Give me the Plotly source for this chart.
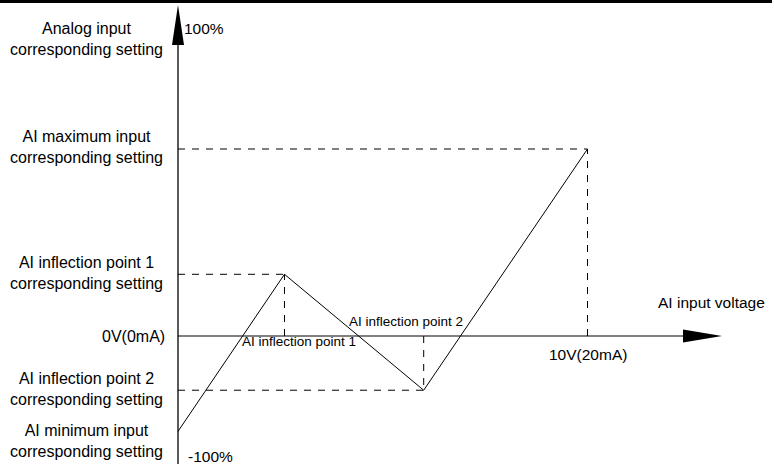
import plotly.graph_objects as go

# ---------------------------------------------------------
# AI curve with two inflection points (setting vs input)
# ---------------------------------------------------------

W, H = 774, 464
X0_PX, Y0_PX = 178, 336        # where the two axes cross, in pixels
PX_PER_V = 40.95               # 0 V .. 10 V spans 178 -> 587 px
PX_PER_PCT = 1.87              # 0 % .. 100 % spans 336 -> 149 px

# points of the curve: min, inflection 1, inflection 2, max
input_v = [0.0, 2.6, 6.0, 10.0]
setting_pct = [-51, 33, -29, 100]

FONT = "Arial, Liberation Sans, sans-serif"


def vx(px):
    return (px - X0_PX) / PX_PER_V


def vy(py):
    return (Y0_PX - py) / PX_PER_PCT


fig = go.Figure()

# === dashed guide lines to both axes (not for the min point) ===
gx, gy = [], []
for xv, yv in zip(input_v[1:], setting_pct[1:]):
    gx += [0, xv, None, xv, xv, None]
    gy += [yv, yv, None, 0, yv, None]
fig.add_trace(go.Scatter(
    x=gx, y=gy, mode="lines",
    line=dict(color="black", width=1, dash="7px,7px"),
    hoverinfo="skip", showlegend=False
))

# === the curve ===
fig.add_trace(go.Scatter(
    x=input_v, y=setting_pct, mode="lines",
    line=dict(color="black", width=1),
    showlegend=False
))

# === axes drawn as shapes ===
shapes = []
# x axis (grey) + arrow head
shapes.append(dict(type="line", xref="x", yref="y", x0=0, y0=0, x1=vx(684), y1=0,
                   line=dict(color="#808080", width=2), layer="below"))
hx0, hx1, hh = vx(683), vx(722), 6.5 / PX_PER_PCT
shapes.append(dict(type="path", xref="x", yref="y",
                   path=f"M{hx0},{hh} L{hx1},0 L{hx0},{-hh} Z",
                   fillcolor="black", line=dict(color="black", width=0)))
# y axis (black) + arrow head
shapes.append(dict(type="line", xref="x", yref="y", x0=0, y0=vy(H), x1=0, y1=vy(44),
                   line=dict(color="black", width=1.3)))
vy0, vy1, hw = vy(45), vy(5), 6 / PX_PER_V
shapes.append(dict(type="path", xref="x", yref="y",
                   path=f"M{-hw},{vy0} L0,{vy1} L{hw},{vy0} Z",
                   fillcolor="black", line=dict(color="black", width=0)))
# black rule at the very top
shapes.append(dict(type="rect", xref="paper", yref="paper",
                   x0=0, x1=772 / W, y0=1 - 3 / H, y1=1,
                   fillcolor="black", line=dict(width=0)))

# === texts (pixel positions) ===
texts = [
    ("Analog input<br>corresponding setting", 86, 39, "center", 16),
    ("AI maximum input<br>corresponding setting", 86, 147, "center", 16),
    ("AI inflection point 1<br>corresponding setting", 86, 273, "center", 16),
    ("0V(0mA)", 167, 336, "right", 16),
    ("AI inflection point 2<br>corresponding setting", 86, 389, "center", 16),
    ("AI minimum input<br>corresponding setting", 86, 441, "center", 16),
    ("100%", 182, 28, "left", 15.5),
    ("-100%", 186, 456, "left", 15.5),
    ("AI inflection point 1", 240, 341, "left", 13.5),
    ("AI inflection point 2", 347, 321, "left", 13.5),
    ("AI input voltage", 656, 302, "left", 15.5),
    ("10V(20mA)", 588, 354, "center", 15.5),
]
annotations = []
for txt, px, py, anchor, size in texts:
    annotations.append(dict(
        x=vx(px), y=vy(py), xref="x", yref="y", text=txt, showarrow=False,
        xanchor=anchor, yanchor="middle", align="center",
        font=dict(family=FONT, size=size, color="black")
    ))

fig.update_layout(
    width=W, height=H, autosize=False,
    margin=dict(l=0, r=0, t=0, b=0),
    paper_bgcolor="white", plot_bgcolor="white",
    xaxis=dict(range=[vx(0), vx(W)], visible=False, fixedrange=True),
    yaxis=dict(range=[vy(H), vy(0)], visible=False, fixedrange=True),
    shapes=shapes, annotations=annotations,
    showlegend=False
)

# page body has a default 8px margin; drop it so the figure sits at 0,0
fig.write_html("out.html", config={"displayModeBar": False},
               post_script="document.body.style.margin='0';")
